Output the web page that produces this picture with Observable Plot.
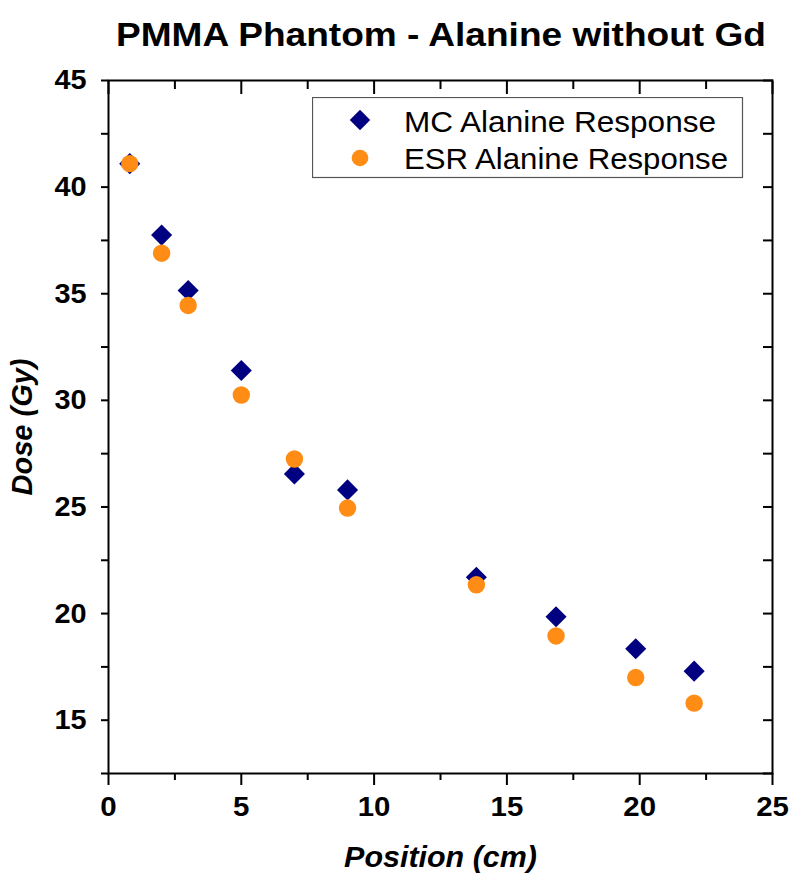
<!DOCTYPE html>
<html>
<head>
<meta charset="utf-8">
<script src="https://cdn.jsdelivr.net/npm/d3@7"></script>
<script src="https://cdn.jsdelivr.net/npm/@observablehq/plot@0.6"></script>
<style>
  body { margin: 0; background: #fff; font-family: "Liberation Sans", Arial, sans-serif; }
  #wrap { position: relative; width: 793px; height: 873px; background: #fff; }
  #wrap svg { display: block; }
  #legend { position: absolute; left: 312px; top: 97px; }
</style>
</head>
<body>
<div id="wrap"></div>
<script>
// ---- data ----
const positions = [0.8, 2, 3, 5, 7, 9, 13.85, 16.85, 19.85, 22.05];
const mcDose    = [41.1, 37.75, 35.15, 31.4, 26.55, 25.8, 21.7, 19.85, 18.35, 17.3];
const esrDose   = [41.1, 36.9, 34.45, 30.25, 27.25, 24.95, 21.35, 18.95, 17.0, 15.8];
const seriesNames   = ["MC Alanine Response", "ESR Alanine Response"];
const seriesColors  = ["#000080", "#FF8C14"];
const seriesSymbols = ["diamond2", "circle"];
const xMajorTicks = [0, 5, 10, 15, 20, 25];
const xMinorTicks = [2.5, 7.5, 12.5, 17.5, 22.5];
const yMajorTicks = [15, 20, 25, 30, 35, 40, 45];
const yMinorTicks = [12.5, 17.5, 22.5, 27.5, 32.5, 37.5, 42.5];
const titleText = "PMMA Phantom - Alanine without Gd";
const xLabel = "Position (cm)";
const yLabel = "Dose (Gy)";

const mcData  = positions.map((x, i) => ({x, y: mcDose[i], series: seriesNames[0]}));
const esrData = positions.map((x, i) => ({x, y: esrDose[i], series: seriesNames[1]}));

const FONT = '"Liberation Sans", Arial, Helvetica, sans-serif';
const wrap = document.getElementById("wrap");

// ---- title ----
const titleSvg = d3.create("svg").attr("width", 793).attr("height", 70);
titleSvg.append("text")
  .attr("x", 441).attr("y", 46)
  .attr("text-anchor", "middle")
  .attr("font-family", FONT).attr("font-weight", "bold").attr("font-size", 33)
  .attr("textLength", 650).attr("lengthAdjust", "spacingAndGlyphs")
  .text(titleText);
wrap.appendChild(titleSvg.node());

// ---- plot ----
const noText = () => "";
const plot = Plot.plot({
  width: 793,
  height: 803,
  marginTop: 10,
  marginBottom: 100,
  marginLeft: 108,
  marginRight: 21,
  style: {fontFamily: FONT, fontSize: "28px", fontWeight: "bold", color: "black", background: "white", overflow: "visible"},
  x: {domain: [0, 25]},
  y: {domain: [12.5, 45]},
  marks: [
    Plot.axisX(xMajorTicks, {anchor: "bottom", tickSize: 12, tickPadding: 11, strokeWidth: 2, fontSize: 28,
      label: xLabel, labelAnchor: "center", labelArrow: "none", labelOffset: 93}),
    Plot.axisX(xMinorTicks, {anchor: "bottom", tickSize: 7, strokeWidth: 2, tickFormat: noText, label: null}),
    Plot.axisX(xMajorTicks, {anchor: "top", tickSize: -13, strokeWidth: 2, tickFormat: noText, label: null}),
    Plot.axisX(xMinorTicks, {anchor: "top", tickSize: -8, strokeWidth: 2, tickFormat: noText, label: null}),
    Plot.axisY(yMajorTicks, {anchor: "left", tickSize: 7, tickPadding: 15, strokeWidth: 2, fontSize: 28,
      label: yLabel, labelAnchor: "center", labelArrow: "none", labelOffset: 97}),
    Plot.axisY(yMinorTicks, {anchor: "left", tickSize: 7, strokeWidth: 2, tickFormat: noText, label: null}),
    Plot.axisY(yMajorTicks.concat(yMinorTicks), {anchor: "right", tickSize: -10, strokeWidth: 2, tickFormat: noText, label: null}),
    Plot.frame({stroke: "black", strokeWidth: 2}),
    Plot.dot(mcData, {x: "x", y: "y", symbol: seriesSymbols[0], r: 9.5, fill: seriesColors[0], stroke: "none"}),
    Plot.dot(esrData, {x: "x", y: "y", symbol: seriesSymbols[1], r: 8.7, fill: seriesColors[1], stroke: "none"})
  ]
});
wrap.appendChild(plot);

// style axis labels
const xl = plot.querySelector('g[aria-label="x-axis label"] text');
const yl = plot.querySelector('g[aria-label="y-axis label"] text');
[xl, yl].forEach(t => { if (t) { t.setAttribute("font-size", 29); t.setAttribute("font-style", "italic"); t.style.fontSize = "29px"; t.style.fontStyle = "italic"; } });

// horizontal stretch of glyphs to match the reference's wide lettering
function stretch(sel, k) {
  plot.querySelectorAll(sel).forEach(t => {
    const len = t.getComputedTextLength();
    if (len > 0) { t.setAttribute("textLength", (len * k).toFixed(1)); t.setAttribute("lengthAdjust", "spacingAndGlyphs"); }
  });
}
stretch('g[aria-label="x-axis tick label"] text', 1.05);
stretch('g[aria-label="y-axis tick label"] text', 1.03);
stretch('g[aria-label="x-axis label"] text', 1.05);

// ---- legend ----
const lg = d3.create("svg").attr("id", "legend").attr("width", 432).attr("height", 82);
lg.append("rect").attr("x", 0.5).attr("y", 0.5).attr("width", 430).attr("height", 80)
  .attr("fill", "white").attr("stroke", "#555").attr("stroke-width", 1.2);
const legendRows = [
  {name: seriesNames[0], color: seriesColors[0], sym: d3.symbolDiamond2, r: 9.2, cy: 23, ty: 35, tl: 312},
  {name: seriesNames[1], color: seriesColors[1], sym: d3.symbolCircle, r: 8.3, cy: 61, ty: 72, tl: 324}
];
legendRows.forEach(row => {
  lg.append("path")
    .attr("d", d3.symbol(row.sym, Math.PI * row.r * row.r)())
    .attr("transform", `translate(48,${row.cy})`)
    .attr("fill", row.color);
  lg.append("text")
    .attr("x", 92).attr("y", row.ty)
    .attr("font-family", FONT).attr("font-size", 29)
    .attr("textLength", row.tl).attr("lengthAdjust", "spacingAndGlyphs")
    .attr("fill", "black")
    .text(row.name);
});
wrap.appendChild(lg.node());
</script>
</body>
</html>
